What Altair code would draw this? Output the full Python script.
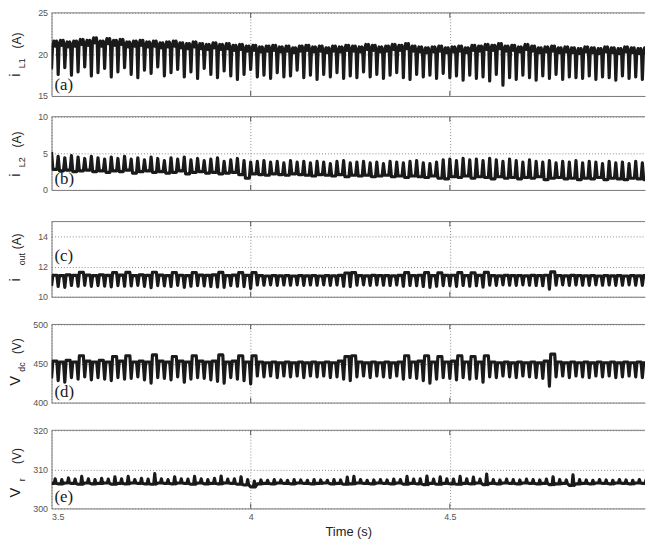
import altair as alt
import pandas as pd

# ---------------- data (read per 60 Hz cycle from the picture) ----------------
T_START = 3.5
CYCLE = 1 / 60.0

# (a) i_L1 (A): plateau tops and spike bottoms per cycle
a_hi = [21.6, 21.7, 21.5, 21.6, 21.8, 21.7, 22.0, 21.6, 21.9, 21.7,
        21.8, 21.5, 21.6, 21.7, 21.5, 21.6, 21.4, 21.5, 21.6, 21.4,
        21.3, 21.5, 21.3, 21.2, 21.4, 21.2, 21.3, 21.1, 21.2, 21.0,
        21.1, 20.9, 21.0, 21.1, 20.9, 21.0, 20.8, 21.0, 21.1, 20.9,
        21.0, 20.8, 21.0, 20.9, 21.1, 21.0, 20.9, 21.2, 21.1, 20.9,
        21.0, 21.2, 21.1, 21.3, 21.0, 20.9, 20.8, 20.9, 21.0, 20.8,
        20.9, 21.0, 20.8, 21.1, 21.0, 21.2, 21.1, 21.3, 21.0, 21.1,
        20.9, 21.2, 21.0, 20.8, 20.9, 21.0, 20.8, 20.9, 20.8, 20.7,
        20.9, 20.8, 20.7, 20.9, 20.8, 20.7, 20.9, 20.8, 20.7, 20.8]
a_lo = [18.2, 17.6, 18.4, 17.5, 17.9, 18.5, 17.4, 17.8, 18.3, 17.3,
        17.9, 18.4, 17.6, 17.2, 18.1, 17.7, 18.5, 17.4, 17.8, 18.2,
        17.3, 17.9, 17.1, 18.3, 17.6, 17.2, 18.0, 17.4, 17.0, 17.6,
        18.2, 17.3, 17.5, 17.1, 17.8, 17.3, 17.4, 18.1, 17.2, 17.5,
        17.0, 17.6, 17.3, 17.8, 17.1, 17.4, 17.2, 17.9, 17.3, 17.6,
        17.1, 17.5, 17.8, 17.2, 17.0, 17.6, 17.3, 17.5, 17.1, 17.7,
        17.2, 17.4, 16.9, 17.5, 17.1, 17.3, 16.8, 17.6, 16.3, 17.2,
        17.0, 17.5, 17.2, 16.9, 17.4, 17.1, 17.6, 17.0, 17.3, 17.2,
        17.1, 17.4, 17.0, 17.3, 17.2, 16.9, 17.4, 17.1, 17.3, 17.0]

# (b) i_L2 (A): spike tops and trough values per cycle
b_hi = [5.2, 4.6, 4.4, 4.7, 4.5, 4.3, 4.6, 4.4, 4.2, 4.5,
        4.3, 4.6, 4.2, 4.4, 4.1, 4.5, 4.3, 4.0, 4.4, 4.2,
        4.5, 4.1, 4.3, 4.0, 4.2, 4.4, 3.9, 4.1, 4.3, 4.0,
        3.8, 3.9, 4.0, 3.8, 3.9, 3.7, 4.0, 3.8, 3.9, 3.7,
        3.9, 3.8, 3.6, 3.9, 4.0, 3.7, 3.8, 3.9, 3.7, 3.8,
        3.6, 3.9, 3.8, 3.7, 3.9, 4.0, 3.7, 3.6, 3.8, 4.1,
        4.2, 4.0, 4.3, 4.1, 4.2, 4.0, 4.3, 4.1, 3.9, 4.2,
        4.0, 3.8, 4.1, 3.9, 3.8, 4.0, 3.7, 3.9, 3.8, 4.0,
        3.7, 3.9, 3.8, 3.6, 3.9, 3.7, 3.8, 3.6, 3.9, 3.7]
b_lo = [2.8, 2.6, 2.7, 2.5, 2.6, 2.7, 2.5, 2.6, 2.4, 2.6,
        2.5, 2.7, 2.3, 2.5, 2.6, 2.4, 2.5, 2.3, 2.4, 2.6,
        2.2, 2.4, 2.5, 2.3, 2.4, 2.2, 2.3, 2.4, 2.1, 1.6,
        2.2, 2.1, 2.0, 2.2, 2.1, 2.0, 2.2, 2.1, 2.0, 1.9,
        2.1, 2.0, 1.9, 2.1, 1.8, 2.0, 1.9, 2.0, 1.8, 1.9,
        2.0, 1.8, 1.9, 1.7, 1.9, 1.8, 1.7, 1.9, 1.6, 1.5,
        1.8, 1.7, 1.9, 1.6, 1.8, 1.7, 1.5, 1.8, 1.6, 1.7,
        1.5, 1.7, 1.6, 1.8, 1.4, 1.6, 1.7, 1.5, 1.6, 1.4,
        1.6, 1.5, 1.7, 1.4, 1.6, 1.5, 1.4, 1.6, 1.5, 1.4]

# (c) i_out (A)
c_hi = [11.43, 11.41, 11.45, 11.42, 11.62, 11.44, 11.41, 11.45, 11.42, 11.60,
        11.44, 11.62, 11.41, 11.45, 11.42, 11.63, 11.44, 11.41, 11.60, 11.43,
        11.41, 11.61, 11.44, 11.42, 11.45, 11.62, 11.41, 11.44, 11.60, 11.42,
        11.61, 11.40, 11.38, 11.41, 11.39, 11.40, 11.38, 11.41, 11.39, 11.40,
        11.38, 11.41, 11.39, 11.42, 11.58, 11.60, 11.41, 11.39, 11.42, 11.40,
        11.41, 11.39, 11.42, 11.61, 11.41, 11.43, 11.60, 11.40, 11.59, 11.42,
        11.43, 11.61, 11.41, 11.59, 11.42, 11.62, 11.41, 11.39, 11.42, 11.40,
        11.41, 11.39, 11.42, 11.40, 11.43, 11.66, 11.41, 11.39, 11.42, 11.40,
        11.39, 11.41, 11.38, 11.40, 11.39, 11.41, 11.38, 11.40, 11.39, 11.41]
c_lo = [10.72, 10.68, 10.62, 10.75, 10.70, 10.76, 10.69, 10.74, 10.71, 10.66,
        10.74, 10.70, 10.72, 10.76, 10.69, 10.60, 10.74, 10.72, 10.68, 10.76,
        10.62, 10.70, 10.74, 10.72, 10.68, 10.65, 10.62, 10.74, 10.70, 10.67,
        10.55, 10.78, 10.77, 10.79, 10.76, 10.78, 10.77, 10.79, 10.76, 10.78,
        10.77, 10.79, 10.76, 10.78, 10.70, 10.67, 10.77, 10.79, 10.76, 10.78,
        10.77, 10.75, 10.78, 10.70, 10.75, 10.73, 10.68, 10.62, 10.70, 10.74,
        10.73, 10.69, 10.75, 10.70, 10.73, 10.64, 10.77, 10.76, 10.79, 10.77,
        10.76, 10.79, 10.77, 10.75, 10.73, 10.50, 10.77, 10.79, 10.76, 10.78,
        10.77, 10.76, 10.79, 10.77, 10.78, 10.76, 10.77, 10.79, 10.77, 10.76]

# (d) V_dc (V)
d_hi = [453, 452, 454, 452, 460, 453, 452, 454, 452, 459,
        453, 460, 452, 453, 452, 461, 453, 452, 459, 453,
        452, 460, 453, 452, 453, 461, 452, 453, 460, 452,
        460, 452, 451, 452, 451, 452, 451, 452, 451, 452,
        451, 452, 451, 453, 459, 460, 452, 451, 452, 451,
        452, 451, 452, 460, 452, 453, 460, 452, 459, 452,
        453, 460, 452, 459, 452, 460, 452, 451, 452, 451,
        452, 451, 452, 451, 453, 462, 452, 451, 452, 451,
        452, 451, 452, 451, 452, 451, 452, 451, 452, 451]
d_lo = [431, 428, 426, 432, 430, 433, 429, 432, 430, 428,
        432, 430, 431, 433, 429, 425, 432, 431, 429, 433,
        426, 430, 432, 431, 429, 427, 425, 432, 430, 428,
        424, 434, 433, 434, 432, 434, 433, 434, 432, 434,
        433, 434, 432, 433, 430, 428, 433, 434, 432, 434,
        433, 432, 434, 430, 432, 431, 428, 425, 430, 432,
        431, 429, 432, 430, 431, 426, 433, 432, 434, 433,
        432, 434, 433, 432, 431, 421, 433, 434, 432, 434,
        433, 432, 434, 433, 434, 432, 433, 434, 433, 432]

# (e) V_r (V)
e_hi = [307.6, 307.4, 307.8, 307.5, 308.2, 307.6, 307.4, 307.7, 307.5, 308.1,
        307.6, 308.2, 307.4, 307.7, 307.5, 308.9, 307.6, 307.4, 308.1, 307.6,
        307.5, 308.2, 307.6, 307.4, 307.7, 308.3, 307.5, 307.6, 308.1, 307.4,
        307.0, 307.3, 307.2, 307.4, 307.3, 307.2, 307.4, 307.3, 307.2, 307.4,
        307.3, 307.2, 307.4, 307.3, 308.0, 308.2, 307.4, 307.2, 307.3, 307.4,
        307.3, 307.5, 307.4, 308.2, 307.5, 307.6, 308.3, 307.5, 308.1, 307.6,
        307.5, 308.2, 307.6, 308.0, 307.5, 308.8, 307.4, 307.3, 307.5, 307.4,
        307.3, 307.5, 307.4, 307.3, 307.5, 308.1, 307.4, 307.3, 308.6, 307.4,
        307.3, 307.2, 307.4, 307.3, 307.2, 307.4, 307.3, 307.2, 307.4, 307.3]
e_lo = [306.4, 306.3, 306.5, 306.4, 306.2, 306.5, 306.3, 306.4, 306.5, 306.2,
        306.4, 306.3, 306.5, 306.4, 306.3, 306.2, 306.5, 306.4, 306.3, 306.5,
        306.4, 306.2, 306.5, 306.3, 306.4, 306.3, 306.5, 306.4, 306.2, 306.0,
        305.5, 306.3, 306.4, 306.3, 306.5, 306.4, 306.3, 306.5, 306.4, 306.3,
        306.4, 306.5, 306.3, 306.4, 306.2, 306.3, 306.5, 306.4, 306.3, 306.5,
        306.4, 306.3, 306.5, 306.2, 306.4, 306.3, 306.1, 306.4, 306.2, 306.4,
        306.3, 306.2, 306.4, 306.3, 306.5, 306.1, 306.4, 306.3, 306.5, 306.4,
        306.3, 306.5, 306.4, 306.3, 306.4, 306.1, 306.3, 306.4, 305.9, 306.3,
        306.4, 306.3, 306.5, 306.4, 306.3, 306.5, 306.4, 306.3, 306.5, 306.4]

x_ticks = [3.5, 4, 4.5]
inner_ticks = [4, 4.5]

# ---------------- waveform building ----------------
SHAPE_A = [(0.0, "lo"), (0.15, "mid"), (0.35, "hi"), (0.55, "mid"), (0.75, "hi"), (0.88, "mid")]
SHAPE_B = [(0.0, "hi"), (0.2, "lo"), (0.8, "lo")]
SHAPE_CD = [(0.0, "lo"), (0.2, "hi"), (0.8, "hi")]
SHAPE_E = [(0.0, "lo"), (0.4, "lo"), (0.55, "hi"), (0.7, "lo")]


def waveform(hi, lo, shape, band=0.0):
    rows = []
    for i, (h, l) in enumerate(zip(hi, lo)):
        t0 = T_START + i * CYCLE
        lv = {"hi": h, "lo": l, "mid": h - band}
        for ph, key in shape:
            rows.append({"t": t0 + ph * CYCLE, "v": lv[key]})
    return pd.DataFrame(rows)


FONT = "Liberation Sans, Arial, Helvetica, sans-serif"
SERIF = "Liberation Serif, Times New Roman, serif"
AX_COL = "#7a7a7a"
GRID_COL = "#8c8c8c"
W = 600
XSCALE = alt.Scale(domain=[3.5, 4.99], nice=False, zero=False)


def text_part(s, x, y, size, angle=270, font=FONT, align="center", baseline="middle", color="#1a1a1a"):
    return alt.Chart(pd.DataFrame({"s": [s]})).mark_text(
        angle=angle, fontSize=size, font=font, align=align, baseline=baseline, color=color
    ).encode(text="s:N", x=alt.value(x), y=alt.value(y))


def panel(df, ydom, yvals, height, letter, letter_y, main, sub, unit, ty, last=False):
    if last:
        xaxis = alt.Axis(values=x_ticks, grid=True, gridDash=[1, 2], gridColor=GRID_COL,
                         ticks=False, domainColor=AX_COL, labelFontSize=9, labelColor="#555",
                         labelFont=FONT, labelPadding=4, format="~g", title="Time (s)",
                         titleFont=FONT, titleFontSize=13, titleFontWeight="normal",
                         titleColor="#222", titlePadding=4)
    else:
        xaxis = alt.Axis(values=x_ticks, grid=True, gridDash=[1, 2], gridColor=GRID_COL,
                         ticks=False, labels=False, domainColor=AX_COL, title=None)
    line = alt.Chart(df).mark_line(color="#1a1a1a", strokeWidth=3.2, strokeJoin="round", clip=True).encode(
        x=alt.X("t:Q", scale=XSCALE, axis=xaxis),
        y=alt.Y("v:Q", scale=alt.Scale(domain=ydom, nice=False, zero=False),
                axis=alt.Axis(values=yvals, grid=True, gridDash=[1, 2], gridColor=GRID_COL,
                              ticks=False, domainColor=AX_COL, labelFontSize=9, labelColor="#555",
                              labelFont=FONT, labelPadding=4, title=None)),
    )
    top = alt.Chart(pd.DataFrame({"k": [0]})).mark_rule(color=AX_COL, strokeWidth=1).encode(
        x=alt.value(0), x2=alt.value(W), y=alt.value(0))
    tdf = pd.DataFrame({"t": inner_ticks})
    tick_top = alt.Chart(tdf).mark_rule(color="#555", strokeWidth=1).encode(
        x=alt.X("t:Q", scale=XSCALE), y=alt.value(0), y2=alt.value(5))
    tick_bot = alt.Chart(tdf).mark_rule(color="#555", strokeWidth=1).encode(
        x=alt.X("t:Q", scale=XSCALE), y=alt.value(height - 5), y2=alt.value(height))
    lab = text_part(letter, 3, letter_y, 17, angle=0, font=SERIF, align="left", baseline="bottom")
    t_main = text_part(main, -36.5, ty[0], 15)
    t_sub = text_part(sub, -29.5, ty[1], 9)
    t_unit = text_part(unit, -34.5, ty[2], 12)
    return alt.layer(line, top, tick_top, tick_bot, lab, t_main, t_sub, t_unit).properties(
        width=W, height=height)


pa = panel(waveform(a_hi, a_lo, SHAPE_A, band=0.6), [15, 25], [15, 20, 25], 84,
           "(a)", 82, "i", "L1", "(A)", (63, 51, 28))
pb = panel(waveform(b_hi, b_lo, SHAPE_B), [0, 10], [0, 5, 10], 74,
           "(b)", 72, "i", "L2", "(A)", (59, 46, 23))
pc = panel(waveform(c_hi, c_lo, SHAPE_CD), [10, 15], [10, 12, 14], 76,
           "(c)", 44, "i", "out", "(A)", (59, 38, 20))
pd_ = panel(waveform(d_hi, d_lo, SHAPE_CD), [400, 500], [400, 450, 500], 79,
            "(d)", 77, "V", "dc", "(V)", (57, 43, 22))
pe = panel(waveform(e_hi, e_lo, SHAPE_E), [300, 320], [300, 310, 320], 79,
           "(e)", 77, "V", "r", "(V)", (63, 50, 26), last=True)

PAD = {"left": 0, "top": -2, "right": 0, "bottom": 0}
inner_de = alt.vconcat(pd_, pe, spacing=19)
inner_cde = alt.vconcat(pc, inner_de, spacing=19)
inner_bcde = alt.vconcat(pb, inner_cde, spacing=26)
chart = alt.vconcat(pa, inner_bcde, spacing=12).properties(padding=PAD).configure(
    background="white", padding=PAD
).configure_view(stroke=None)

chart.save("out.html", embed_options={"renderer": "svg", "actions": False})
